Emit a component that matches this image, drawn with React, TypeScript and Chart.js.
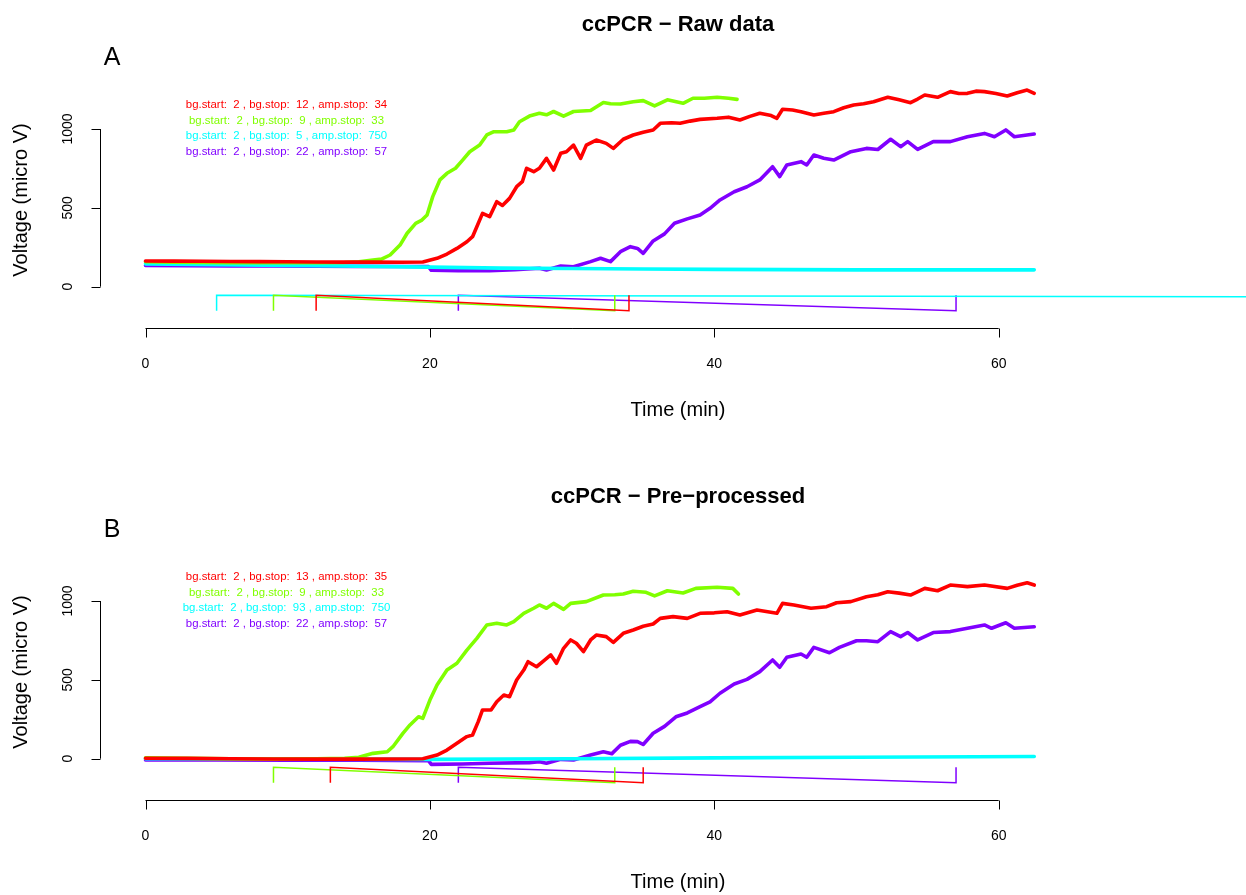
import React, { useEffect, useRef } from "react";
import { Chart, registerables } from "chart.js";
Chart.register(...registerables);

// ---------- data ----------
const SERIES_COLORS = ["#FF0000", "#80FF00", "#00FFFF", "#8000FF"];
const X_TICKS = [0, 20, 40, 60];
const Y_TICKS = [0, 500, 1000];

// Panel A: raw data  [time (min), voltage (micro V)]
const rawRed = [[0,163],[2,162],[4,161],[6,160],[8,159],[10,158],[12,157],[14,156],[16,156],[18,155],[19.5,157],[20.5,180],[21.2,207],[21.9,243],[22.6,285],[23.0,317],[23.3,380],[23.7,465],[24.2,444],[24.7,539],[25.1,515],[25.6,560],[26.1,634],[26.5,666],[26.8,751],[27.3,729],[27.7,751],[28.2,814],[28.7,740],[29.2,846],[29.6,856],[30.1,898],[30.6,814],[31.0,898],[31.7,930],[32.4,909],[32.9,877],[33.6,935],[34.3,962],[35.0,980],[35.7,994],[36.2,1036],[37.0,1040],[37.6,1036],[38.3,1050],[39.0,1061],[40.2,1068],[41.0,1075],[41.8,1057],[42.5,1080],[43.2,1100],[44.0,1085],[44.4,1068],[44.8,1125],[45.5,1120],[46.1,1110],[47.0,1089],[47.7,1100],[48.4,1110],[49.1,1135],[49.8,1152],[50.5,1160],[51.2,1173],[52.2,1201],[53.0,1185],[53.8,1167],[54.3,1190],[54.8,1216],[55.7,1201],[56.6,1237],[57.2,1225],[57.8,1226],[58.4,1240],[59.0,1237],[59.8,1225],[60.6,1209],[61.3,1230],[62.0,1247],[62.5,1226]];
const rawGreen = [[0,158],[2,155],[4,153],[6,152],[8,152],[10,152],[12,152],[14,153],[15,158],[16,169],[16.6,175],[17.2,201],[17.9,264],[18.4,339],[19.0,402],[19.4,420],[19.8,455],[20.2,571],[20.7,677],[21.2,719],[21.8,751],[22.3,803],[22.8,856],[23.5,898],[24.0,962],[24.5,983],[25.4,983],[25.9,994],[26.3,1046],[27.0,1082],[27.7,1100],[28.2,1090],[28.7,1111],[29.4,1082],[30.1,1111],[31.3,1117],[32.2,1168],[32.7,1160],[33.4,1159],[34.3,1173],[35.0,1180],[35.8,1146],[36.7,1185],[37.8,1163],[38.5,1195],[39.3,1195],[40.2,1201],[41.0,1195],[41.6,1188]];
const rawCyan = [[0,145],[5,140],[10,135],[15,130],[20,124],[25,118],[30,115],[35,112],[40,110],[45,108],[50,107],[55,107],[62.5,107]];
const rawPurple = [[0,134],[3,133],[6,132],[9,131],[12,130],[15,129],[18,128],[19.9,127],[20.1,104],[22,101],[24.2,101],[26,108],[27.7,117],[28.2,106],[29.2,131],[30.1,126],[31.3,159],[32.0,180],[32.7,159],[33.4,222],[34.1,254],[34.6,243],[35.0,212],[35.7,290],[36.5,335],[37.2,402],[38.1,430],[39.0,455],[39.7,497],[40.4,550],[41.4,602],[42.3,634],[43.2,677],[44.1,761],[44.6,698],[45.1,772],[46.1,793],[46.5,772],[47.0,835],[47.7,815],[48.4,803],[49.6,856],[50.7,877],[51.5,870],[52.4,935],[53.1,888],[53.6,920],[54.3,871],[55.4,920],[56.6,920],[57.8,951],[59.0,972],[59.7,951],[60.5,994],[61.1,951],[62.5,968]];
const rawBgStart = [2, 2, 2, 2];
const rawBgStop = [12, 9, 5, 22];
const rawAmpStop = [34, 33, 750, 57];

// Panel B: pre-processed
const ppRed = [[0,3],[3,2],[6,0],[9,-2],[12,-3],[15,-3],[18,-2],[19.5,0],[20.5,23],[21.2,55],[21.9,98],[22.6,140],[23.0,150],[23.4,235],[23.7,309],[24.3,309],[24.7,361],[25.2,404],[25.6,393],[26.1,499],[26.6,562],[26.9,615],[27.5,583],[28.0,620],[28.5,658],[28.9,605],[29.4,700],[29.9,753],[30.3,732],[30.8,679],[31.3,753],[31.7,784],[32.4,774],[32.9,738],[33.6,795],[34.3,816],[35.0,840],[35.7,854],[36.2,890],[37.1,901],[38.1,890],[39.0,922],[40.0,925],[40.9,932],[41.8,911],[43.0,943],[44.4,922],[44.8,985],[45.6,975],[46.8,954],[47.9,964],[48.6,989],[49.6,996],[50.7,1027],[51.5,1040],[52.2,1059],[53.0,1050],[53.8,1038],[54.8,1080],[55.7,1065],[56.6,1101],[57.8,1091],[59.0,1101],[60.6,1080],[61.3,1100],[62.0,1116],[62.5,1101]];
const ppGreen = [[0,5],[3,3],[6,0],[9,-3],[12,0],[14,3],[15,9],[16.0,34],[17.0,44],[17.4,76],[18.1,161],[18.6,214],[19.2,266],[19.5,256],[20.0,372],[20.5,467],[21.2,562],[21.9,605],[22.6,689],[23.3,763],[24.0,848],[24.7,859],[25.4,848],[25.9,869],[26.6,922],[27.3,954],[27.7,975],[28.2,954],[28.7,985],[29.4,947],[29.9,985],[31.0,996],[32.2,1038],[33.0,1040],[33.6,1044],[34.3,1062],[35.2,1055],[35.8,1032],[36.7,1065],[37.8,1051],[38.7,1080],[40.2,1087],[41.3,1080],[41.7,1044]];
const ppCyan = [[0,0],[10,-3],[20,-4],[30,0],[40,5],[50,9],[62.5,14]];
const ppPurple = [[0,-8],[5,-8],[10,-9],[15,-10],[19.9,-12],[20.1,-36],[22.3,-34],[24.2,-29],[27.0,-25],[27.7,-19],[28.2,-29],[29.2,-4],[30.1,-8],[31.3,23],[32.2,44],[32.8,32],[33.4,85],[34.1,110],[34.6,108],[35.0,90],[35.7,161],[36.5,205],[37.3,266],[38.1,290],[39.0,330],[39.7,361],[40.4,415],[41.4,474],[42.3,503],[43.2,552],[44.1,626],[44.6,580],[45.1,643],[46.1,664],[46.5,643],[47.0,706],[48.1,672],[48.8,706],[50.0,748],[50.7,748],[51.5,742],[52.4,806],[53.1,774],[53.6,800],[54.3,753],[55.4,800],[56.6,806],[57.8,827],[59.0,848],[59.5,827],[60.5,862],[61.1,827],[62.5,837]];
const ppBgStart = [2, 2, 2, 2];
const ppBgStop = [13, 9, 93, 22];
const ppAmpStop = [35, 33, 750, 57];

const BRACKET_TOP = -54;
const BRACKET_BOTTOM = -152;

const FONT = "'Liberation Sans', Arial, Helvetica, sans-serif";

type PanelProps = {
  title: string;
  letter: string;
  series: number[][][];
  bgStart: number[];
  bgStop: number[];
  ampStop: number[];
  height: number;
};

function Panel({ title, letter, series, bgStart, bgStop, ampStop, height }: PanelProps) {
  const ref = useRef<HTMLCanvasElement | null>(null);
  useEffect(() => {
    const canvas = ref.current;
    if (!canvas) return;
    const datasets: any[] = [];
    series.forEach((s, i) => {
      datasets.push({
        data: s.map(([x, y]) => ({ x, y })),
        borderColor: SERIES_COLORS[i],
        backgroundColor: SERIES_COLORS[i],
        borderWidth: 3.6,
        showLine: true,
        pointRadius: 0,
        tension: 0,
        borderJoinStyle: "round",
        borderCapStyle: "round",
      });
    });
    series.forEach((_, i) => {
      datasets.push({
        data: [
          { x: bgStop[i], y: BRACKET_BOTTOM },
          { x: bgStop[i], y: BRACKET_TOP },
          { x: ampStop[i], y: BRACKET_BOTTOM },
          { x: ampStop[i], y: BRACKET_TOP },
        ],
        borderColor: SERIES_COLORS[i],
        borderWidth: 1.5,
        showLine: true,
        pointRadius: 0,
        tension: 0,
      });
    });

    const axesPlugin = {
      id: "rAxes",
      afterDraw(chart: any) {
        const ctx = chart.ctx as CanvasRenderingContext2D;
        const xs = chart.scales.x;
        const ys = chart.scales.y;
        const area = chart.chartArea;
        ctx.save();
        ctx.strokeStyle = "#000";
        ctx.fillStyle = "#000";
        ctx.lineWidth = 1;
        // x axis
        const yAx = Math.round(area.bottom) + 0.5;
        ctx.beginPath();
        ctx.moveTo(xs.getPixelForValue(X_TICKS[0]), yAx);
        ctx.lineTo(xs.getPixelForValue(X_TICKS[X_TICKS.length - 1]), yAx);
        X_TICKS.forEach((t) => {
          const px = Math.round(xs.getPixelForValue(t)) + 0.5;
          ctx.moveTo(px, yAx);
          ctx.lineTo(px, yAx + 9);
        });
        ctx.stroke();
        ctx.font = `14px ${FONT}`;
        ctx.textAlign = "center";
        ctx.textBaseline = "middle";
        X_TICKS.forEach((t) => {
          ctx.fillText(String(t), xs.getPixelForValue(t), 364);
        });
        // y axis
        const xAx = Math.round(area.left) + 0.5;
        ctx.beginPath();
        ctx.moveTo(xAx, ys.getPixelForValue(Y_TICKS[0]));
        ctx.lineTo(xAx, ys.getPixelForValue(Y_TICKS[Y_TICKS.length - 1]));
        Y_TICKS.forEach((v) => {
          const py = Math.round(ys.getPixelForValue(v)) + 0.5;
          ctx.moveTo(xAx, py);
          ctx.lineTo(xAx - 9, py);
        });
        ctx.stroke();
        Y_TICKS.forEach((v) => {
          ctx.save();
          ctx.translate(68, ys.getPixelForValue(v));
          ctx.rotate(-Math.PI / 2);
          ctx.fillText(String(v), 0, 0);
          ctx.restore();
        });
        // axis titles
        ctx.font = `20px ${FONT}`;
        ctx.fillText("Time (min)", 678, 410);
        ctx.save();
        ctx.translate(21, 200);
        ctx.rotate(-Math.PI / 2);
        ctx.fillText("Voltage (micro V)", 0, 0);
        ctx.restore();
        // main title
        ctx.font = `bold 22px ${FONT}`;
        ctx.fillText(title, 678, 25);
        // panel letter
        ctx.font = `25px ${FONT}`;
        ctx.fillText(letter, 112, 58);
        // legend
        ctx.font = `11.4px ${FONT}`;
        series.forEach((_, i) => {
          ctx.fillStyle = SERIES_COLORS[i];
          ctx.fillText(
            `bg.start:  ${bgStart[i]} , bg.stop:  ${bgStop[i]} , amp.stop:  ${ampStop[i]}`,
            286.5,
            105 + i * 15.6
          );
        });
        ctx.restore();
      },
    };

    const W = 1246;
    const x0 = 145.5, kx = 14.22;
    const y0 = 286.7, ky = 0.1577;
    const top = 60, bottom = 328;
    const chart = new Chart(canvas, {
      type: "scatter",
      data: { datasets },
      options: {
        animation: false,
        responsive: false,
        devicePixelRatio: 1,
        layout: { padding: { left: 100, right: 0, top, bottom: height - bottom } },
        plugins: { legend: { display: false }, tooltip: { enabled: false }, title: { display: false } },
        scales: {
          x: { type: "linear", display: false, min: (100 - x0) / kx, max: (W - x0) / kx },
          y: { type: "linear", display: false, min: (y0 - bottom) / ky, max: (y0 - top) / ky },
        },
      },
      plugins: [axesPlugin],
    } as any);
    return () => chart.destroy();
  }, []);
  return <canvas ref={ref} width={1246} height={height} style={{ display: "block", width: 1246, height }} />;
}

export default function App() {
  useEffect(() => {
    document.body.style.margin = "0";
  }, []);
  return (
    <div style={{ width: 1246, height: 895, overflow: "hidden", background: "#fff" }}>
      <Panel
        title={"ccPCR \u2212 Raw data"}
        letter="A"
        series={[rawRed, rawGreen, rawCyan, rawPurple]}
        bgStart={rawBgStart}
        bgStop={rawBgStop}
        ampStop={rawAmpStop}
        height={472}
      />
      <Panel
        title={"ccPCR \u2212 Pre\u2212processed"}
        letter="B"
        series={[ppRed, ppGreen, ppCyan, ppPurple]}
        bgStart={ppBgStart}
        bgStop={ppBgStop}
        ampStop={ppAmpStop}
        height={423}
      />
    </div>
  );
}
